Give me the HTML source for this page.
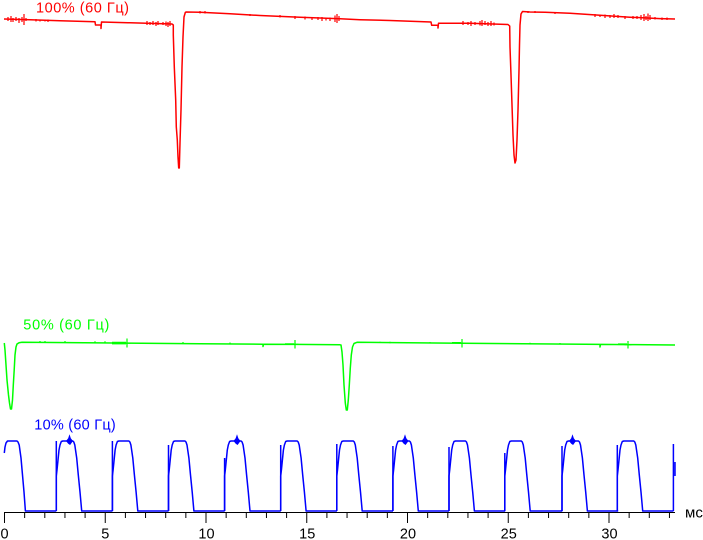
<!DOCTYPE html>
<html>
<head>
<meta charset="utf-8">
<style>
  html, body { margin: 0; padding: 0; background: #ffffff; }
  svg { display: block; }
  text { font-family: "Liberation Sans", "Noto Sans CJK SC", sans-serif; }
</style>
</head>
<body>
<svg width="703" height="540" viewBox="0 0 703 540" xmlns="http://www.w3.org/2000/svg">
  <rect x="0" y="0" width="703" height="540" fill="#ffffff"/>

  <!-- ===== RED 100% ===== -->
  <text x="36" y="12.5" font-size="14.5" fill="#ff0000" textLength="93" lengthAdjust="spacing">100% (60 Гц)</text>
  <path fill="none" stroke="#ff0000" stroke-width="1.5" stroke-linejoin="round"
    d="M4,19 L30,19.8 L60,20.8 L95,21.8 L95.5,25 L101,25 L101,28.5 L101.5,22 L130,22.8 L172,24
       L173.3,25 L173.3,35 L174.3,67 L175.7,100 L176.3,127 L177.3,140 L178,157 L178.7,168 L179.3,168
       L180,143 L181,110 L182,67 L183,37 L184,17 L185.3,12.5 L186,12
       L200,12.2 L210,12.7 L230,13.8 L260,15.5 L300,17.2 L340,18.8 L360,19.7 L390,20.5 L431,22
       L431.7,25.3 L438,25.3 L438,28 L438.5,23.3 L470,23.3 L508,24.5
       L509.7,26 L510,47 L511,75 L512,105 L513,135 L514,155 L515,163 L516,160 L517,140 L518,110
       L519,70 L519.5,45 L520,25 L521,14 L522.5,11.5 L530,12 L545,12.3 L570,13.2 L600,15.3
       L630,17.2 L660,18.6 L675,19"/>
  <path fill="none" stroke="#ff0000" stroke-width="1.2"
    d="M8,17V21 M11,16V22 M13,18V22 M16,17V21 M19,18V23 M22,17V22 M24,14V25 M26,18V21
       M36,19V21.5 M40,19.5V21.5 M45,19.5V21.5 M48,19.5V22
       M147,21V25 M150,22V25 M153,21V25 M156,22V26 M158,21V25 M163,22V25 M166,21.5V26 M168,22V27 M170,21V26
       M200,11V13.5 M205,11V13.5 M250,14V16 M280,15V17.5
       M295,16V19 M305,16.5V19.5 M312,17V20 M318,17V20 M322,17V21 M326,17.5V20.5 M330,17.5V21 M335,15.5V22 M337,14V23 M339,16V21
       M463,21V25 M468,22V25 M471,21V26 M475,22V25 M480,21V25.5 M482,20V26 M485,21V25 M488,22V26 M491,21V26 M494,22.5V25.5
       M528,11V13 M535,11V13 M555,12V14
       M595,14V17 M600,14.5V17 M605,14.5V18 M610,15V18 M614,14V18 M618,15V18 M625,16V19 M633,16V19 M637,16V19
       M641,15V20 M644,14V21 M646,16V20 M648,13.5V21 M650,15V20 M655,17V19.5 M662,17.5V20 M667,17.5V20"/>

  <!-- ===== GREEN 50% ===== -->
  <text x="23.3" y="329.5" font-size="14.5" fill="#00ff00" textLength="86" lengthAdjust="spacing">50% (60 Гц)</text>
  <path fill="none" stroke="#00ff00" stroke-width="1.5" stroke-linejoin="round"
    d="M4.3,343 L5,350 L6,365 L7,380 L8.5,395 L9.5,403 L10.5,409 L11.5,409 L12.5,400 L13.3,385
       L14.2,370 L15,355 L16,347 L17,344 L19,342.8 L22,342.3 L100,342.9 L127,343.1 L200,343.7
       L263,344.2 L263,346.5 L263.5,344.2 L295,344.4 L340,344.8
       L341,345 L342,352 L343,365 L344,385 L345.3,403 L346.3,410 L347.3,410 L348.3,400 L349.3,385
       L350.3,368 L351.3,355 L352.5,347 L354,343.5 L357,342.3 L462,343.2 L600,344.4 L600,347
       L600.5,344.4 L628,344.6 L675,345"/>
  <path fill="none" stroke="#00ff00" stroke-width="1.2"
    d="M127,338.5V347.5 M123.5,343.1H130.5 M112,342.3H126 M112,343.8H126
       M295,340V348.5 M291.5,344.4H298.5 M285,343.8H294
       M462,339V347.5 M458.5,343.2H465.5 M452,342.6H461
       M628,341V348.5 M624.5,344.6H631.5 M618,344H627
       M40,341V342.5 M45,341V342.5 M65,341V342.5 M95,341.3V342.8 M105,341.3V343
       M183,342V343.5 M230,342.5V344 M380,341.7V343 M390,341.8V343.2 M430,342.1V343.5 M530,342.8V344.2 M560,343V344.5"/>

  <!-- ===== BLUE 10% ===== -->
  <text x="34.3" y="429.5" font-size="14.5" fill="#0000ff" textLength="81.4" lengthAdjust="spacing">10% (60 Гц)</text>
  <g fill="none" stroke="#0000ff" stroke-width="1.5" stroke-linejoin="round">
    <path d="M4.3,453 L5,447 L6,443 L7.5,441 L17,441 L18,442 L19.2,445 L21,458 L22.5,475 L24,492 L25.4,511 L56.3,511"/>
    <path transform="translate(56.3,0)" d="M0,511 L0,476 L0.7,470 L1.7,460 L2.7,450 L3.7,445 L5,441.5 L6.5,441 L16.5,441 L17.5,442 L18.5,445 L20.4,458 L22,475 L23.7,492 L25.4,511 L56.2,511"/>
    <path transform="translate(112.4,0)" d="M0,511 L0,476 L0.7,470 L1.7,460 L2.7,450 L3.7,445 L5,441.5 L6.5,441 L16.5,441 L17.5,442 L18.5,445 L20.4,458 L22,475 L23.7,492 L25.4,511 L56.2,511"/>
    <path transform="translate(168.5,0)" d="M0,511 L0,476 L0.7,470 L1.7,460 L2.7,450 L3.7,445 L5,441.5 L6.5,441 L16.5,441 L17.5,442 L18.5,445 L20.4,458 L22,475 L23.7,492 L25.4,511 L56.2,511"/>
    <path transform="translate(224.6,0)" d="M0,511 L0,476 L0.7,470 L1.7,460 L2.7,450 L3.7,445 L5,441.5 L6.5,441 L16.5,441 L17.5,442 L18.5,445 L20.4,458 L22,475 L23.7,492 L25.4,511 L56.2,511"/>
    <path transform="translate(280.7,0)" d="M0,511 L0,476 L0.7,470 L1.7,460 L2.7,450 L3.7,445 L5,441.5 L6.5,441 L16.5,441 L17.5,442 L18.5,445 L20.4,458 L22,475 L23.7,492 L25.4,511 L56.2,511"/>
    <path transform="translate(336.8,0)" d="M0,511 L0,476 L0.7,470 L1.7,460 L2.7,450 L3.7,445 L5,441.5 L6.5,441 L16.5,441 L17.5,442 L18.5,445 L20.4,458 L22,475 L23.7,492 L25.4,511 L56.2,511"/>
    <path transform="translate(392.9,0)" d="M0,511 L0,476 L0.7,470 L1.7,460 L2.7,450 L3.7,445 L5,441.5 L6.5,441 L16.5,441 L17.5,442 L18.5,445 L20.4,458 L22,475 L23.7,492 L25.4,511 L56.2,511"/>
    <path transform="translate(449,0)" d="M0,511 L0,476 L0.7,470 L1.7,460 L2.7,450 L3.7,445 L5,441.5 L6.5,441 L16.5,441 L17.5,442 L18.5,445 L20.4,458 L22,475 L23.7,492 L25.4,511 L56.2,511"/>
    <path transform="translate(504.8,0)" d="M0,511 L0,476 L0.7,470 L1.7,460 L2.7,450 L3.7,445 L5,441.5 L6.5,441 L16.5,441 L17.5,442 L18.5,445 L20.4,458 L22,475 L23.7,492 L25.4,511 L57.5,511"/>
    <path transform="translate(562,0)" d="M0,511 L0,476 L0.7,470 L1.7,460 L2.7,450 L3.7,445 L5,441.5 L6.5,441 L16.5,441 L17.5,442 L18.5,445 L20.4,458 L22,475 L23.7,492 L25.4,511 L56.2,511"/>
    <path transform="translate(617.3,0)" d="M0,511 L0,476 L0.7,470 L1.7,460 L2.7,450 L3.7,445 L5,441.5 L6.5,441 L16.5,441 L17.5,442 L18.5,445 L20.4,458 L22,475 L23.7,492 L25.4,511 L56.1,511"/>
    <!-- rise spikes -->
    <path d="M56.3,511V441 M112.4,511V441 M168.5,511V445 M224.6,511V458 M280.7,511V445 M336.8,511V444
             M392.9,511V446 M449,511V447 M504.8,511V453 M562,511V446 M617.3,511V445 M673.4,511V444 M675,462V476"/>
  </g>
  <!-- blobs on tops -->
  <g fill="#0000ff" stroke="#0000ff" stroke-width="0.8">
    <polygon points="66.5,441 68.5,438.5 69.5,435.5 70.5,438.5 72.5,441 70,444.5 68.5,443.5"/>
    <polygon points="234,441 236,438.5 237,435.5 238,438.5 240,441 237.5,444.5 236,443.5"/>
    <polygon points="402,441 404,438.5 405,435.5 406,438.5 408,441 405.5,444.5 404,443.5"/>
    <polygon points="569.5,441 571.5,438.5 572.5,435.5 573.5,438.5 575.5,441 573,444.5 571.5,443.5"/>
  </g>

  <!-- ===== AXIS ===== -->
  <g stroke="#000000" stroke-width="1" fill="none">
    <path d="M4,512.5 H675"/>
    <path d="M4.5,512.5V523 M24.65,512.5V518 M44.8,512.5V518 M64.95,512.5V518 M85.1,512.5V518
             M105.25,512.5V523 M125.4,512.5V518 M145.55,512.5V518 M165.7,512.5V518 M185.85,512.5V518
             M206,512.5V523 M226.15,512.5V518 M246.3,512.5V518 M266.45,512.5V518 M286.6,512.5V518
             M306.75,512.5V523 M326.9,512.5V518 M347.05,512.5V518 M367.2,512.5V518 M387.35,512.5V518
             M407.5,512.5V523 M427.65,512.5V518 M447.8,512.5V518 M467.95,512.5V518 M488.1,512.5V518
             M508.25,512.5V523 M528.4,512.5V518 M548.55,512.5V518 M568.7,512.5V518 M588.85,512.5V518
             M609,512.5V523 M629.15,512.5V518 M649.3,512.5V518 M669.45,512.5V518"/>
  </g>
  <g font-size="14.5" fill="#000000" text-anchor="middle">
    <text x="4.5" y="538.5">0</text>
    <text x="105.25" y="538.5">5</text>
    <text x="206.5" y="538.5">10</text>
    <text x="307.25" y="538.5">15</text>
    <text x="408" y="538.5">20</text>
    <text x="508.75" y="538.5">25</text>
    <text x="609.5" y="538.5">30</text>
  </g>
  <text x="685" y="517.5" font-size="15" fill="#000000">мс</text>
</svg>
</body>
</html>
